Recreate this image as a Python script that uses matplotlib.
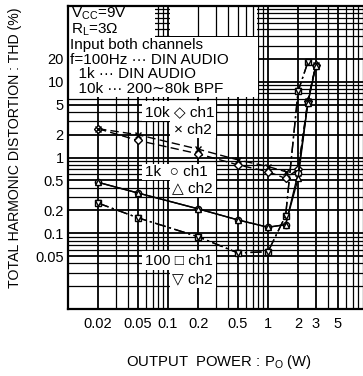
import matplotlib
matplotlib.use('Agg')
import matplotlib.pyplot as plt
from matplotlib.patches import Rectangle

plt.rcParams['font.family'] = ['Liberation Sans', 'DejaVu Sans']
plt.rcParams['mathtext.fontset'] = 'custom'
plt.rcParams['mathtext.rm'] = 'Liberation Sans'

# output power (W)
p_10k = [0.02, 0.05, 0.2, 0.5, 1, 1.5, 2, 2.5, 3]
p_1k = [0.02, 0.05, 0.2, 0.5, 1, 1.5, 2, 2.5, 3]
p_100 = [0.02, 0.05, 0.2, 0.5, 1, 1.5, 2, 2.5]

# THD (%)
thd_10k_ch1 = [2.4, 1.68, 1.12, 0.8, 0.65, 0.53, 0.7, 5.5, 16.5]
thd_10k_ch2 = [2.4, 2.0, 1.29, 0.93, 0.76, 0.65, 0.62, 5.6, 16.5]
thd_1k_ch1 = [0.47, 0.34, 0.21, 0.15, 0.12, 0.13, 0.62, 5.2, 16.0]
thd_1k_ch2 = [0.47, 0.34, 0.21, 0.15, 0.12, 0.13, 0.53, 5.2, 16.0]
thd_100_ch1 = [0.25, 0.16, 0.09, 0.055, 0.057, 0.17, 7.5, 18]
thd_100_ch2 = [0.25, 0.16, 0.09, 0.055, 0.057, 0.17, 7.5, 18]

xticks = [0.02, 0.05, 0.1, 0.2, 0.5, 1, 2, 3, 5]
xticklabels = ['0.02', '0.05', '0.1', '0.2', '0.5', '1', '2', '3', '5']
yticks = [0.05, 0.1, 0.2, 0.5, 1, 2, 5, 10, 20]
yticklabels = ['0.05', '0.1', '0.2', '0.5', '1', '2', '5', '10', '20']

W, H = 363, 376
fig = plt.figure(figsize=(W / 100, H / 100), dpi=100)
ax = fig.add_axes([68 / W, 1 - 309 / H, 300 / W, 303 / H])
tf = fig.transFigure


def px(x, y):
    return x / W, 1 - y / H


def blank(x0, y0, x1, y1):
    # white area in pixel coords
    ax.add_patch(Rectangle(px(x0, y1), (x1 - x0) / W, (y1 - y0) / H,
                           transform=tf, facecolor='white', edgecolor='none',
                           zorder=1.5))


ax.set_xscale('log')
ax.set_yscale('log')
ax.set_xlim(0.01, 10)
ax.set_ylim(0.01, 100)
ax.set_axisbelow(True)

ax.grid(True, which='major', color='black', linewidth=1.3)
ax.grid(True, which='minor', color='black', linewidth=0.9)

ax.set_xticks(xticks)
ax.set_xticklabels(xticklabels)
ax.set_yticks(yticks)
ax.set_yticklabels(yticklabels)
ax.tick_params(which='both', length=0, labelsize=10.5)
ax.tick_params(axis='x', pad=6)
ax.tick_params(axis='y', pad=3)
for s in ax.spines.values():
    s.set_linewidth(1.6)

# area at top without horizontal lines
ax.add_patch(Rectangle((0.105, 40), 0.78 - 0.105, 60, facecolor='white',
                       edgecolor='none', zorder=1.5))
ax.vlines([0.2, 0.3, 0.4, 0.5, 0.6, 0.7], 40, 100, color='black',
          linewidth=0.9, zorder=1.6)

# white boxes behind the text
blank(68, 5, 155, 37)
blank(68, 37, 258, 97)
blank(142, 101, 216, 121)
blank(170, 121, 216, 138)
blank(142, 164, 216, 180)
blank(170, 180, 216, 197)
blank(142, 251, 216, 270)
blank(170, 270, 216, 288)

mk = dict(markerfacecolor='white', markeredgecolor='black', color='black',
          linewidth=1.0, zorder=3)
dash = (0, (6, 3))
dashdot = (0, (8, 2.5, 1.5, 2.5))
ax.plot(p_10k, thd_10k_ch1, linestyle=dash, marker='D', markersize=4.2, **mk)
ax.plot(p_10k, thd_10k_ch2, linestyle=dash, marker='x', markersize=5, **mk)
ax.plot(p_1k, thd_1k_ch1, linestyle='-', marker='o', markersize=4.5, **mk)
ax.plot(p_1k, thd_1k_ch2, linestyle='-', marker='^', markersize=4.5, **mk)
ax.plot(p_100, thd_100_ch1, linestyle=dashdot, marker='s', markersize=4.2, **mk)
ax.plot(p_100, thd_100_ch2, linestyle=dashdot, marker='v', markersize=4.5, **mk)


def label(x, y, s, **kw):
    ax.text(*px(x, y), s, transform=tf, fontsize=11, va='center', ha='left',
            zorder=4, **kw)


# condition text
label(71, 14, r'V$_{\rm CC}$=9V')
label(71, 30, r'R$_{\rm L}$=3Ω')
label(70, 45, 'Input both channels')
label(70, 60, 'f=100Hz ··· DIN AUDIO')
label(70, 74, '  1k ··· DIN AUDIO')
label(70, 89, '  10k ··· 200∼80k BPF')

# series keys
label(145, 112, '10k ◇ ch1')
label(174, 130, '× ch2')
label(145, 172, '1k  ○ ch1')
label(172, 188, '△ ch2')
label(145, 261, '100 □ ch1')
label(172, 279, '▽ ch2')

fig.text(*px(15, 148), 'TOTAL HARMONIC DISTORTION : THD (%)', rotation=90,
         fontsize=10.2, ha='center', va='center')
fig.text(*px(219, 362), r'OUTPUT  POWER : P$_{\rm O}$ (W)', fontsize=10.7,
         ha='center', va='center')

fig.savefig('out.png', dpi=100)
